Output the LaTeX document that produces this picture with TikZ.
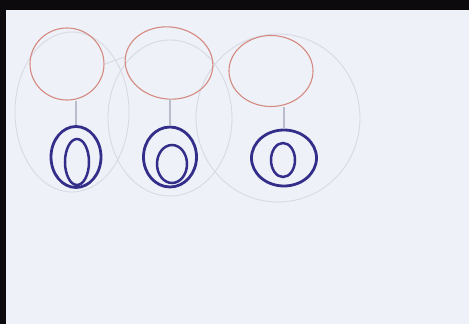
\documentclass[tikz,border=0pt]{standalone}
\usetikzlibrary{shapes.geometric}
\definecolor{paper}{HTML}{EFF1F8}
\definecolor{edge}{HTML}{0C0A0C}
\definecolor{redpen}{HTML}{D48A80}
\definecolor{bluepen}{HTML}{332E8A}
\definecolor{pencil}{HTML}{B9BDCA}
\tikzset{
  head/.style={draw=redpen, line width=1.1pt, ellipse, inner sep=0pt},
  ringout/.style={draw=bluepen, line width=2.8pt, ellipse, inner sep=0pt},
  ringin/.style={draw=bluepen, line width=2.5pt, ellipse, inner sep=0pt},
  stem/.style={draw=pencil, line width=1.1pt},
  faint/.style={draw=pencil!45!paper, line width=0.9pt},
}
\begin{document}
\begin{tikzpicture}[x=1pt,y=-1pt]
\useasboundingbox (0,0) rectangle (469,324);
\fill[edge] (0,0) rectangle (469,324);
\fill[paper] (6,10) rectangle (469,324);
% faint pencil group outlines
\draw[faint] (72,112) ellipse [x radius=57, y radius=80];
\draw[faint] (170,118) ellipse [x radius=62, y radius=78];
\draw[faint] (278,118) ellipse [x radius=82, y radius=84];
% heads
\node[head, minimum width=74pt, minimum height=72pt] (r1) at (67,64) {};
\node[head, minimum width=88pt, minimum height=72pt, rotate=-8] (r2) at (169,63) {};
\node[head, minimum width=84pt, minimum height=71pt] (r3) at (271,71) {};
% rings
\node[ringout, minimum width=50pt, minimum height=61pt] (b1) at (76,157) {};
\node[ringin, minimum width=24pt, minimum height=46pt] (c1) at (77,162) {};
\node[ringout, minimum width=53pt, minimum height=60pt] (b2) at (170,157) {};
\node[ringin, minimum width=30pt, minimum height=38pt] (c2) at (172,164) {};
\node[ringout, minimum width=65pt, minimum height=56pt] (b3) at (284,158) {};
\node[ringin, minimum width=24pt, minimum height=34pt] (c3) at (283,160) {};
% stems
\draw[stem] (b1.north |- r1.south) -- (b1.north);
\draw[stem] (b2.north |- r2.south) -- (b2.north);
\draw[stem] (b3.north |- r3.south) -- (b3.north);
\draw[faint] (r1.east) -- (r2.west);
\end{tikzpicture}
\end{document}
